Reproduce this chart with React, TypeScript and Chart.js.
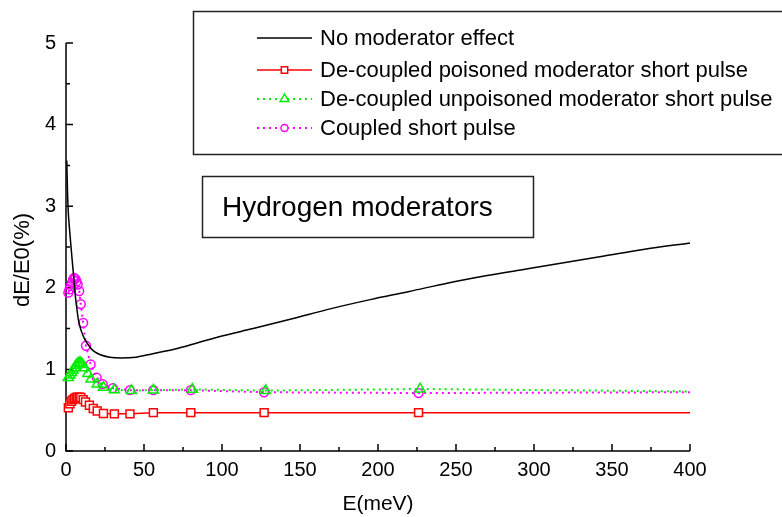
import React, { useEffect, useRef } from 'react';
import { Chart, registerables } from 'chart.js';

Chart.register(...registerables);

const FONT = '"Liberation Sans", Arial, Helvetica, sans-serif';

// ---- data (E in meV, dE/E0 in %) ----
const seriesLabels = [
  'No moderator effect',
  'De-coupled poisoned moderator short pulse',
  'De-coupled unpoisoned moderator short pulse',
  'Coupled short pulse',
];

const noModeratorE = [0.5, 1, 1.5, 2, 3, 4, 5, 6, 7, 8, 10, 12, 15, 18, 22, 28, 35, 45, 55, 70, 85, 100, 120, 145, 170, 195, 220, 245, 270, 295, 320, 345, 370, 400];
const noModeratorV = [3.56, 3.15, 2.92, 2.78, 2.55, 2.33, 2.12, 1.9, 1.74, 1.6, 1.46, 1.37, 1.28, 1.22, 1.18, 1.15, 1.14, 1.15, 1.19, 1.25, 1.33, 1.41, 1.5, 1.62, 1.745, 1.855, 1.955, 2.06, 2.15, 2.23, 2.31, 2.39, 2.47, 2.55];

const poisonedE = [1.5, 2.5, 3.5, 4.5, 5.5, 6.5, 7.5, 8.5, 9.5, 11, 12.5, 15, 17.5, 20, 24, 31, 41, 56, 80, 127, 226, 400];
const poisonedV = [0.53, 0.58, 0.61, 0.63, 0.645, 0.655, 0.66, 0.66, 0.655, 0.63, 0.6, 0.56, 0.52, 0.49, 0.46, 0.455, 0.455, 0.47, 0.47, 0.47, 0.47, 0.47];

const unpoisonedE = [1.5, 2.5, 3.5, 4.5, 5.5, 6.5, 7.5, 8.5, 9.5, 10.5, 12, 14, 16, 20, 24, 31, 42, 56, 81, 128, 227, 400];
const unpoisonedV = [0.9, 0.93, 0.96, 0.99, 1.02, 1.05, 1.07, 1.08, 1.08, 1.06, 1.02, 0.95, 0.88, 0.82, 0.78, 0.75, 0.74, 0.745, 0.755, 0.74, 0.76, 0.73];

const coupledE = [1.5, 2.2, 3, 3.8, 4.5, 5.2, 6, 6.8, 7.5, 8.5, 9.5, 11, 12.8, 15.8, 19.7, 23.5, 30, 41, 56, 80, 127, 226, 400];
const coupledV = [1.94, 1.98, 2.02, 2.06, 2.1, 2.12, 2.11, 2.08, 2.04, 1.96, 1.8, 1.57, 1.29, 1.06, 0.9, 0.82, 0.77, 0.745, 0.745, 0.745, 0.72, 0.71, 0.72];

const xTicks = [0, 50, 100, 150, 200, 250, 300, 350, 400];
const yTicks = [0, 1, 2, 3, 4, 5];
const xTitle = 'E(meV)';
const yTitle = 'dE/E0(%)';
const annotationText = 'Hydrogen moderators';

const toPoints = (xs: number[], ys: number[]) => xs.map((x, i) => ({ x, y: ys[i] }));
const markerRadius = (r: number) => (ctx: any) =>
  ctx.dataIndex === ctx.dataset.data.length - 1 ? 0 : r;

function drawMarker(ctx: CanvasRenderingContext2D, style: string, x: number, y: number, r: number, color: string) {
  ctx.save();
  ctx.beginPath();
  ctx.setLineDash([]);
  ctx.strokeStyle = color;
  ctx.fillStyle = '#fff';
  ctx.lineWidth = 1.5;
  if (style === 'rect') {
    const s = r * Math.SQRT1_2;
    ctx.rect(x - s, y - s, 2 * s, 2 * s);
  } else if (style === 'triangle') {
    ctx.moveTo(x, y - r);
    ctx.lineTo(x + r * 0.866, y + r * 0.5);
    ctx.lineTo(x - r * 0.866, y + r * 0.5);
    ctx.closePath();
  } else if (style === 'circle') {
    ctx.arc(x, y, r, 0, Math.PI * 2);
  }
  ctx.fill();
  ctx.stroke();
  ctx.restore();
}

const decorPlugin = {
  id: 'decor',
  beforeDatasetsDraw(chart: any) {
    const ctx: CanvasRenderingContext2D = chart.ctx;
    const xs = chart.scales.x;
    const ys = chart.scales.y;
    const { left, right, top, bottom } = chart.chartArea;
    ctx.save();
    ctx.strokeStyle = '#000';
    ctx.lineWidth = 1.5;
    ctx.beginPath();
    ctx.moveTo(left, top);
    ctx.lineTo(left, bottom);
    ctx.lineTo(right, bottom);
    ctx.stroke();
    // x ticks
    ctx.beginPath();
    for (let v = 0; v <= 400; v += 25) {
      const px = xs.getPixelForValue(v);
      const len = v % 50 === 0 ? 7 : 4;
      ctx.moveTo(px, bottom);
      ctx.lineTo(px, bottom - len);
    }
    for (let v = 0; v <= 5.001; v += 0.5) {
      const py = ys.getPixelForValue(v);
      const len = Math.abs(v - Math.round(v)) < 1e-6 ? 7 : 4;
      ctx.moveTo(left, py);
      ctx.lineTo(left + len, py);
    }
    ctx.stroke();
    // y title
    ctx.fillStyle = '#000';
    ctx.font = `22px ${FONT}`;
    ctx.textAlign = 'center';
    ctx.textBaseline = 'middle';
    ctx.translate(23, 260);
    ctx.rotate(-Math.PI / 2);
    ctx.fillText(yTitle, 0, 0);
    ctx.restore();
  },
  afterDraw(chart: any) {
    const ctx: CanvasRenderingContext2D = chart.ctx;
    ctx.save();
    // legend box
    ctx.strokeStyle = '#222';
    ctx.lineWidth = 1.5;
    ctx.fillStyle = '#fff';
    ctx.beginPath();
    ctx.rect(193.5, 11.5, 600, 143);
    ctx.fill();
    ctx.stroke();
    const rows = [38, 70, 99, 128];
    const styles = ['none', 'rect', 'triangle', 'circle'];
    const lr = [0, 4.5, 5, 3.5];
    chart.data.datasets.forEach((ds: any, i: number) => {
      const y = rows[i];
      ctx.save();
      ctx.strokeStyle = ds.borderColor;
      ctx.lineWidth = ds.borderWidth;
      ctx.setLineDash(ds.borderDash || []);
      ctx.beginPath();
      ctx.moveTo(257, y);
      ctx.lineTo(312, y);
      ctx.stroke();
      ctx.restore();
      if (styles[i] !== 'none') drawMarker(ctx, styles[i], 284.5, y, lr[i], ds.borderColor);
      ctx.fillStyle = '#000';
      ctx.font = `22px ${FONT}`;
      ctx.textAlign = 'left';
      ctx.textBaseline = 'middle';
      ctx.fillText(ds.label, 320, y + 1);
    });
    // annotation box
    ctx.strokeStyle = '#222';
    ctx.lineWidth = 1.5;
    ctx.beginPath();
    ctx.rect(202.5, 176.5, 331, 61);
    ctx.stroke();
    ctx.fillStyle = '#000';
    ctx.font = `28px ${FONT}`;
    ctx.textAlign = 'left';
    ctx.textBaseline = 'middle';
    ctx.fillText(annotationText, 222, 208);
    ctx.restore();
  },
};

export default function App() {
  const ref = useRef<HTMLCanvasElement>(null);
  useEffect(() => {
    const chart = new Chart(ref.current!, {
      type: 'line',
      data: {
        datasets: [
          {
            label: seriesLabels[0],
            data: toPoints(noModeratorE, noModeratorV),
            borderColor: '#000000',
            borderWidth: 1.5,
            pointRadius: 0,
            cubicInterpolationMode: 'monotone',
            clip: false,
          },
          {
            label: seriesLabels[1],
            data: toPoints(poisonedE, poisonedV),
            borderColor: '#ff0000',
            borderWidth: 1.5,
            pointStyle: 'rect',
            pointRadius: markerRadius(5.6),
            pointBorderColor: '#ff0000',
            pointBackgroundColor: '#ffffff',
            pointBorderWidth: 1.5,
            clip: false,
          },
          {
            label: seriesLabels[2],
            data: toPoints(unpoisonedE, unpoisonedV),
            borderColor: '#00ee00',
            borderWidth: 2,
            borderDash: [2, 4],
            pointStyle: 'triangle',
            pointRadius: markerRadius(5.8),
            pointBorderColor: '#00ee00',
            pointBackgroundColor: 'rgba(255,255,255,0)',
            pointBorderWidth: 1.5,
            clip: false,
          },
          {
            label: seriesLabels[3],
            data: toPoints(coupledE, coupledV),
            borderColor: '#ff00ff',
            borderWidth: 2,
            borderDash: [2, 4],
            pointStyle: 'circle',
            pointRadius: markerRadius(4.4),
            pointBorderColor: '#ff00ff',
            pointBackgroundColor: 'rgba(255,255,255,0)',
            pointBorderWidth: 1.5,
            clip: false,
          },
        ] as any,
      },
      options: {
        animation: false,
        responsive: false,
        maintainAspectRatio: false,
        layout: { padding: { top: 43, right: 92, left: 0, bottom: 0 } },
        plugins: { legend: { display: false }, tooltip: { enabled: false } },
        scales: {
          x: {
            type: 'linear',
            min: 0,
            max: 400,
            afterFit: (s: any) => {
              s.height = 66;
            },
            afterBuildTicks: (s: any) => {
              s.ticks = xTicks.map((v) => ({ value: v }));
            },
            ticks: {
              color: '#000',
              font: { family: FONT, size: 20 },
              padding: 7,
              maxRotation: 0,
              autoSkip: false,
            },
            grid: { display: false, drawTicks: false },
            border: { display: false },
            title: {
              display: true,
              text: xTitle,
              color: '#000',
              font: { family: FONT, size: 21 },
              padding: { top: 0, bottom: 0 },
            },
          },
          y: {
            type: 'linear',
            min: 0,
            max: 5,
            afterFit: (s: any) => {
              s.width = 66;
            },
            afterBuildTicks: (s: any) => {
              s.ticks = yTicks.map((v) => ({ value: v }));
            },
            ticks: {
              color: '#000',
              font: { family: FONT, size: 20 },
              padding: 10,
              autoSkip: false,
            },
            grid: { display: false, drawTicks: false },
            border: { display: false },
          },
        },
      } as any,
      plugins: [decorPlugin],
    });
    return () => chart.destroy();
  }, []);
  return (
    <div style={{ position: 'absolute', left: 0, top: 0, width: 782, height: 517, background: '#fff' }}>
      <canvas ref={ref} width={782} height={517} style={{ display: 'block', width: 782, height: 517 }} />
    </div>
  );
}
